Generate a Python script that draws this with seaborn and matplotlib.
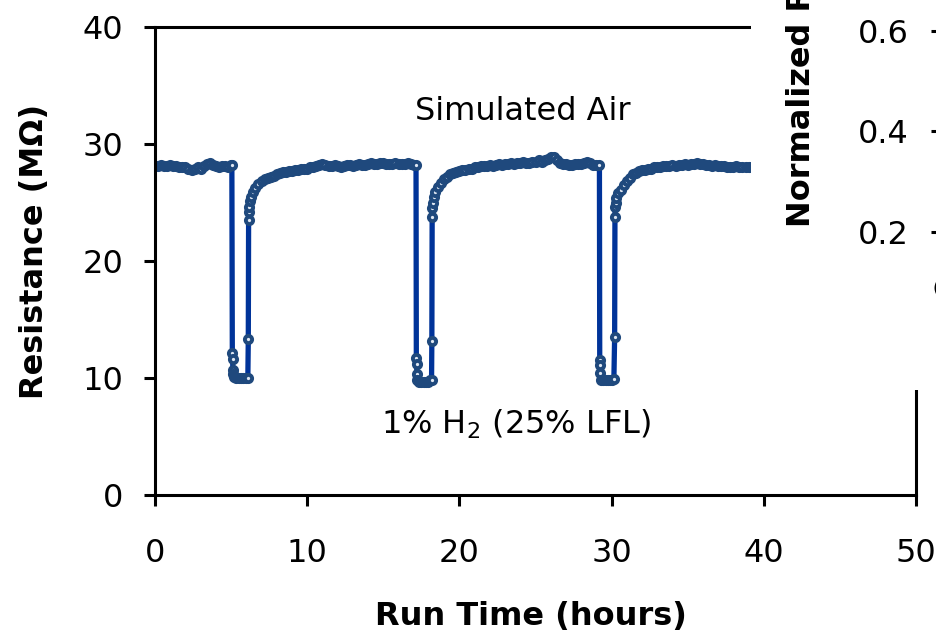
import matplotlib
matplotlib.use("Agg")
import matplotlib.pyplot as plt
from matplotlib.patches import Rectangle
import seaborn as sns
import pandas as pd

# sensor trace (hours, MOhm)
run_hours = [
    0.0, 0.2, 0.4, 0.6, 0.8, 1.0, 1.2, 1.4, 1.6, 1.8, 2.0, 2.2, 2.4, 2.6, 2.8,
    3.0, 3.2, 3.4, 3.6, 3.8, 4.0, 4.2, 4.4, 4.6, 4.8, 5.0, 5.05,
    5.08, 5.10, 5.12, 5.14, 5.2, 5.35, 5.5, 5.65, 5.8, 5.95, 6.1,
    6.13, 6.15, 6.17, 6.19, 6.22, 6.3, 6.45, 6.6, 6.8, 7.0, 7.2, 7.4, 7.6,
    7.8, 8.0, 8.2, 8.4, 8.6, 8.8, 9.0, 9.2, 9.4, 9.6, 9.8, 10.0, 10.2, 10.4,
    10.6, 10.8, 11.0, 11.2, 11.4, 11.6, 11.8, 12.0, 12.2, 12.4, 12.6, 12.8,
    13.0, 13.2, 13.4, 13.6, 13.8, 14.0, 14.2, 14.4, 14.6, 14.8, 15.0, 15.2,
    15.4, 15.6, 15.8, 16.0, 16.2, 16.4, 16.6, 16.8, 17.0, 17.15,
    17.17, 17.19, 17.21, 17.24, 17.35, 17.5, 17.65, 17.8, 17.95, 18.1, 18.17,
    18.19, 18.21, 18.23, 18.25, 18.3, 18.4, 18.6, 18.8, 19.0, 19.2, 19.4,
    19.6, 19.8, 20.0, 20.2, 20.4, 20.6, 20.8, 21.0, 21.2, 21.4, 21.6, 21.8,
    22.0, 22.2, 22.4, 22.6, 22.8, 23.0, 23.2, 23.4, 23.6, 23.8, 24.0, 24.2,
    24.4, 24.6, 24.8, 25.0, 25.2, 25.4, 25.6, 25.8, 26.0, 26.2, 26.4, 26.6,
    26.8, 27.0, 27.2, 27.4, 27.6, 27.8, 28.0, 28.2, 28.4, 28.6, 28.8, 29.0,
    29.2,
    29.22, 29.24, 29.26, 29.3, 29.45, 29.6, 29.75, 29.9, 30.05, 30.15,
    30.2, 30.22, 30.24, 30.26, 30.32, 30.45, 30.6, 30.8, 31.0, 31.2, 31.4,
    31.6, 31.8, 32.0, 32.2, 32.4, 32.6, 32.8, 33.0, 33.2, 33.4, 33.6, 33.8,
    34.0, 34.2, 34.4, 34.6, 34.8, 35.0, 35.2, 35.4, 35.6, 35.8, 36.0, 36.2,
    36.4, 36.6, 36.8, 37.0, 37.2, 37.4, 37.6, 37.8, 38.0, 38.2, 38.4, 38.6,
    38.8, 39.0, 39.2, 39.4, 39.6,
]
resistance_mohm = [
    28.1, 28.1, 28.2, 28.1, 28.1, 28.2, 28.1, 28.1, 28.0, 28.0, 28.0, 27.9,
    27.8, 27.9, 28.0, 27.9, 28.1, 28.3, 28.4, 28.2, 28.1, 28.0, 28.1, 28.1,
    28.0, 28.2, 28.2,
    12.1, 11.6, 10.7, 10.3, 10.1, 10.0, 10.0, 10.0, 10.0, 10.0, 10.0,
    13.3, 23.5, 24.2, 24.6, 25.1, 25.5, 25.9, 26.2, 26.6, 26.8, 27.0, 27.1,
    27.2, 27.3, 27.4, 27.5, 27.6, 27.6, 27.7, 27.7, 27.8, 27.8, 27.9, 27.9,
    27.9, 28.0, 28.0, 28.1, 28.2, 28.3, 28.2, 28.1, 28.1, 28.2, 28.1, 28.0,
    28.1, 28.2, 28.2, 28.1, 28.2, 28.3, 28.2, 28.2, 28.3, 28.4, 28.3, 28.3,
    28.4, 28.4, 28.3, 28.3, 28.3, 28.4, 28.3, 28.3, 28.3, 28.4, 28.3, 28.2,
    28.2,
    11.7, 11.2, 10.3, 9.8, 9.7, 9.7, 9.7, 9.7, 9.7, 9.8, 9.8,
    13.2, 23.8, 24.5, 25.0, 25.5, 25.9, 26.3, 26.7, 27.0, 27.2, 27.4, 27.5,
    27.6, 27.7, 27.8, 27.8, 27.9, 27.9, 28.0, 28.0, 28.1, 28.1, 28.1, 28.2,
    28.1, 28.2, 28.3, 28.2, 28.3, 28.3, 28.4, 28.3, 28.4, 28.4, 28.5, 28.4,
    28.4, 28.5, 28.5, 28.6, 28.5, 28.6, 28.7, 28.9, 28.9, 28.6, 28.4, 28.3,
    28.3, 28.2, 28.2, 28.3, 28.3, 28.3, 28.4, 28.5, 28.4, 28.2, 28.2, 28.2,
    11.5, 11.1, 10.4, 9.8, 9.8, 9.8, 9.8, 9.8, 9.8, 9.9,
    13.5, 23.8, 24.6, 25.0, 25.4, 25.8, 26.1, 26.5, 26.8, 27.1, 27.4, 27.5,
    27.7, 27.8, 27.8, 27.9, 27.9, 28.0, 28.0, 28.0, 28.1, 28.1, 28.1, 28.2,
    28.1, 28.2, 28.2, 28.3, 28.2, 28.3, 28.3, 28.4, 28.3, 28.3, 28.2, 28.2,
    28.1, 28.2, 28.1, 28.1, 28.1, 28.0, 28.0, 28.0, 28.1, 28.0, 28.0, 28.0,
    28.0, 28.0, 28.0, 28.0,
]

x_ticks = [0, 10, 20, 30, 40, 50]
y_ticks = [0, 10, 20, 30, 40]
inset_ticks = [0.2, 0.4, 0.6]
inset_tick_labels = ["0.2", "0.4", "0.6"]

sns.set_style("ticks")
plt.rcParams['font.family'] = ['DejaVu Sans']
plt.rcParams['mathtext.default'] = 'regular'
plt.rcParams['text.color'] = 'black'
plt.rcParams['axes.labelcolor'] = 'black'
plt.rcParams['xtick.color'] = 'black'
plt.rcParams['ytick.color'] = 'black'

FS = 23
W, H = 936, 633
fig = plt.figure(figsize=(W / 100, H / 100), dpi=100)
ax = fig.add_axes([155 / W, 1 - 495 / H, 761 / W, 468 / H])

df = pd.DataFrame({'hours': run_hours, 'resistance': resistance_mohm})
sns.lineplot(data=df, x='hours', y='resistance', sort=False, estimator=None,
             ax=ax, color='#003399', linewidth=3.8, marker='o', markersize=5.2,
             markeredgecolor='#1f497d', markerfacecolor='#dfe7f2',
             markeredgewidth=2.8)

ax.set_xlim(0, 50)
ax.set_ylim(0, 40)
ax.set_xticks(x_ticks)
ax.set_yticks(y_ticks)
ax.tick_params(axis='both', direction='out', length=8, width=2.2,
               labelsize=FS, colors='black')
ax.tick_params(axis='y', pad=15)
ax.tick_params(axis='x', pad=23)
for sp in ax.spines.values():
    sp.set_visible(True)
    sp.set_linewidth(2.2)
    sp.set_color('black')

ax.set_xlabel('Run Time (hours)', fontsize=FS, fontweight='bold')
ax.xaxis.label.set_va('baseline')
ax.xaxis.set_label_coords((531 - 155) / 761, (495 - 625) / 468)
ax.set_ylabel('Resistance (M\u03a9)', fontsize=FS, fontweight='bold')
ax.yaxis.label.set_va('baseline')
ax.yaxis.set_label_coords((43 - 155) / 761, (495 - 251) / 468)

ax.text(24.15, 32.05, 'Simulated Air', ha='center', va='baseline', fontsize=FS)
ax.text(23.75, 5.27, '1% H$_2$ (25% LFL)', ha='center', va='baseline', fontsize=FS)

# white panel of the neighbouring chart that overlaps the top right corner
fig.add_artist(Rectangle((751 / W, 1 - 390 / H), 1 - 751 / W, 390 / H,
                         transform=fig.transFigure, facecolor='white',
                         edgecolor='none', zorder=2))

ax2 = fig.add_axes([942 / W, 1 - 332 / H, 0.3, 332 / H])
ax2.set_zorder(3)
ax2.patch.set_alpha(0)
ax2.set_ylim(0, 0.6617)
ax2.set_yticks(inset_ticks)
ax2.set_yticklabels(inset_tick_labels)
ax2.set_xticks([])
ax2.tick_params(axis='y', direction='out', length=8, width=2.2, labelsize=FS,
                pad=16)
ax2.set_ylabel('Normalized Resistance', fontsize=FS, fontweight='bold')
ax2.yaxis.label.set_va('baseline')
ax2.yaxis.label.set_ha('left')
ax2.yaxis.set_label_coords((810 - 942) / (0.3 * W), (332 - 227) / 332)
fig.text(933 / W, 1 - 289 / H, '(b)', fontsize=13, ha='left', va='center',
         zorder=4)

fig.savefig('out.png', dpi=100)
